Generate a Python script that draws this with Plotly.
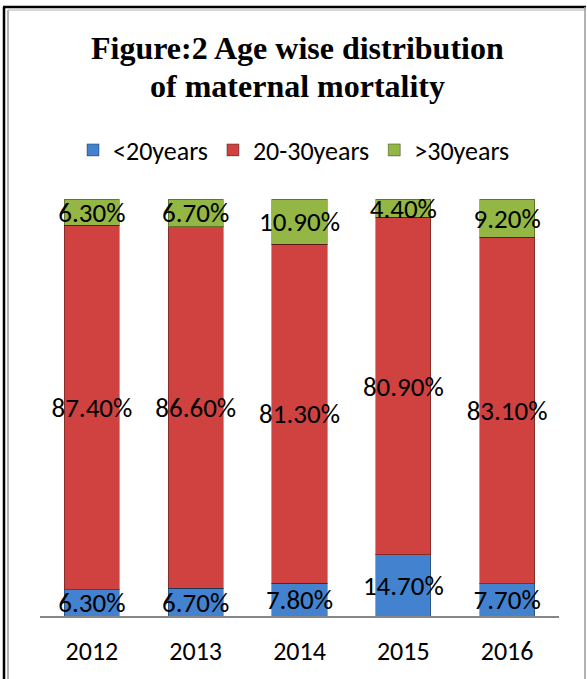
import plotly.graph_objects as go

years = ["2012", "2013", "2014", "2015", "2016"]
under20 = [6.3, 6.7, 7.8, 14.7, 7.7]
from20to30 = [87.4, 86.6, 81.3, 80.9, 83.1]
over30 = [6.3, 6.7, 10.9, 4.4, 9.2]
series_names = ["<20years", "20-30years", ">30years"]
colors = ["#4282cf", "#cf423f", "#93b644"]

W, H = 587, 679
L, R, T, B = 40, 28, 199, 63
pw, ph = W - L - R, H - T - B

def px(x):
    return (x - L) / pw

def py(y):
    return (H - B - y) / ph

SANS = "Carlito, Calibri, Lato, sans-serif"
LABEL_FONT = dict(family=SANS, size=27, color="black")

fig = go.Figure()
for name, vals, col in zip(series_names, [under20, from20to30, over30], colors):
    fig.add_trace(go.Bar(
        x=years, y=vals, name=name,
        marker=dict(color=col, line=dict(color="rgba(0,0,0,0.35)", width=1)),
        text=[f"{v:.2f}%" for v in vals],
        textposition="inside", insidetextanchor="middle",
        textangle=0, constraintext="none",
        textfont=LABEL_FONT,
        width=0.53,
    ))

fig.update_layout(
    barmode="stack",
    width=W, height=H,
    margin=dict(l=L, r=R, t=T, b=B, autoexpand=False),
    paper_bgcolor="white", plot_bgcolor="white",
    showlegend=True,
    legend=dict(orientation="h", x=px(294), xanchor="center", y=py(150), yanchor="middle",
                font=dict(family=SANS, size=26, color="black"),
                traceorder="normal", itemwidth=30),
    xaxis=dict(showline=True, linecolor="#868686", linewidth=1.5, ticks="",
               ticklabelstandoff=11,
               tickfont=dict(family=SANS, size=26, color="black"),
               showgrid=False, zeroline=False),
    yaxis=dict(range=[0, 100], visible=False, showgrid=False, zeroline=False),
)

TITLE_FONT = dict(family="Liberation Serif, Times New Roman, serif", size=32, color="black")
fig.add_annotation(text="<b>Figure:2 Age wise distribution</b>", xref="paper", yref="paper",
                   x=px(297), y=py(48), xanchor="center", yanchor="middle",
                   showarrow=False, font=TITLE_FONT)
fig.add_annotation(text="<b>of maternal mortality</b>", xref="paper", yref="paper",
                   x=px(297), y=py(86), xanchor="center", yanchor="middle",
                   showarrow=False, font=TITLE_FONT)

# chart border
fig.add_shape(type="line", xref="paper", yref="paper", x0=px(4), x1=px(4), y0=py(7), y1=py(690),
              line=dict(color="black", width=2.5))
fig.add_shape(type="line", xref="paper", yref="paper", x0=px(8), x1=px(8), y0=py(10), y1=py(690),
              line=dict(color="#9a9a9a", width=1.5))
fig.add_shape(type="line", xref="paper", yref="paper", x0=px(3), x1=px(586), y0=py(7), y1=py(7),
              line=dict(color="black", width=2.5))
fig.add_shape(type="line", xref="paper", yref="paper", x0=px(8), x1=px(585), y0=py(10), y1=py(10),
              line=dict(color="#b0b0b0", width=1))
fig.add_shape(type="line", xref="paper", yref="paper", x0=px(585), x1=px(585), y0=py(7), y1=py(690),
              line=dict(color="#9a9a9a", width=1.5))

fig.write_html("out.html", config={"displayModeBar": False},
               post_script="document.body.style.margin='0';")
